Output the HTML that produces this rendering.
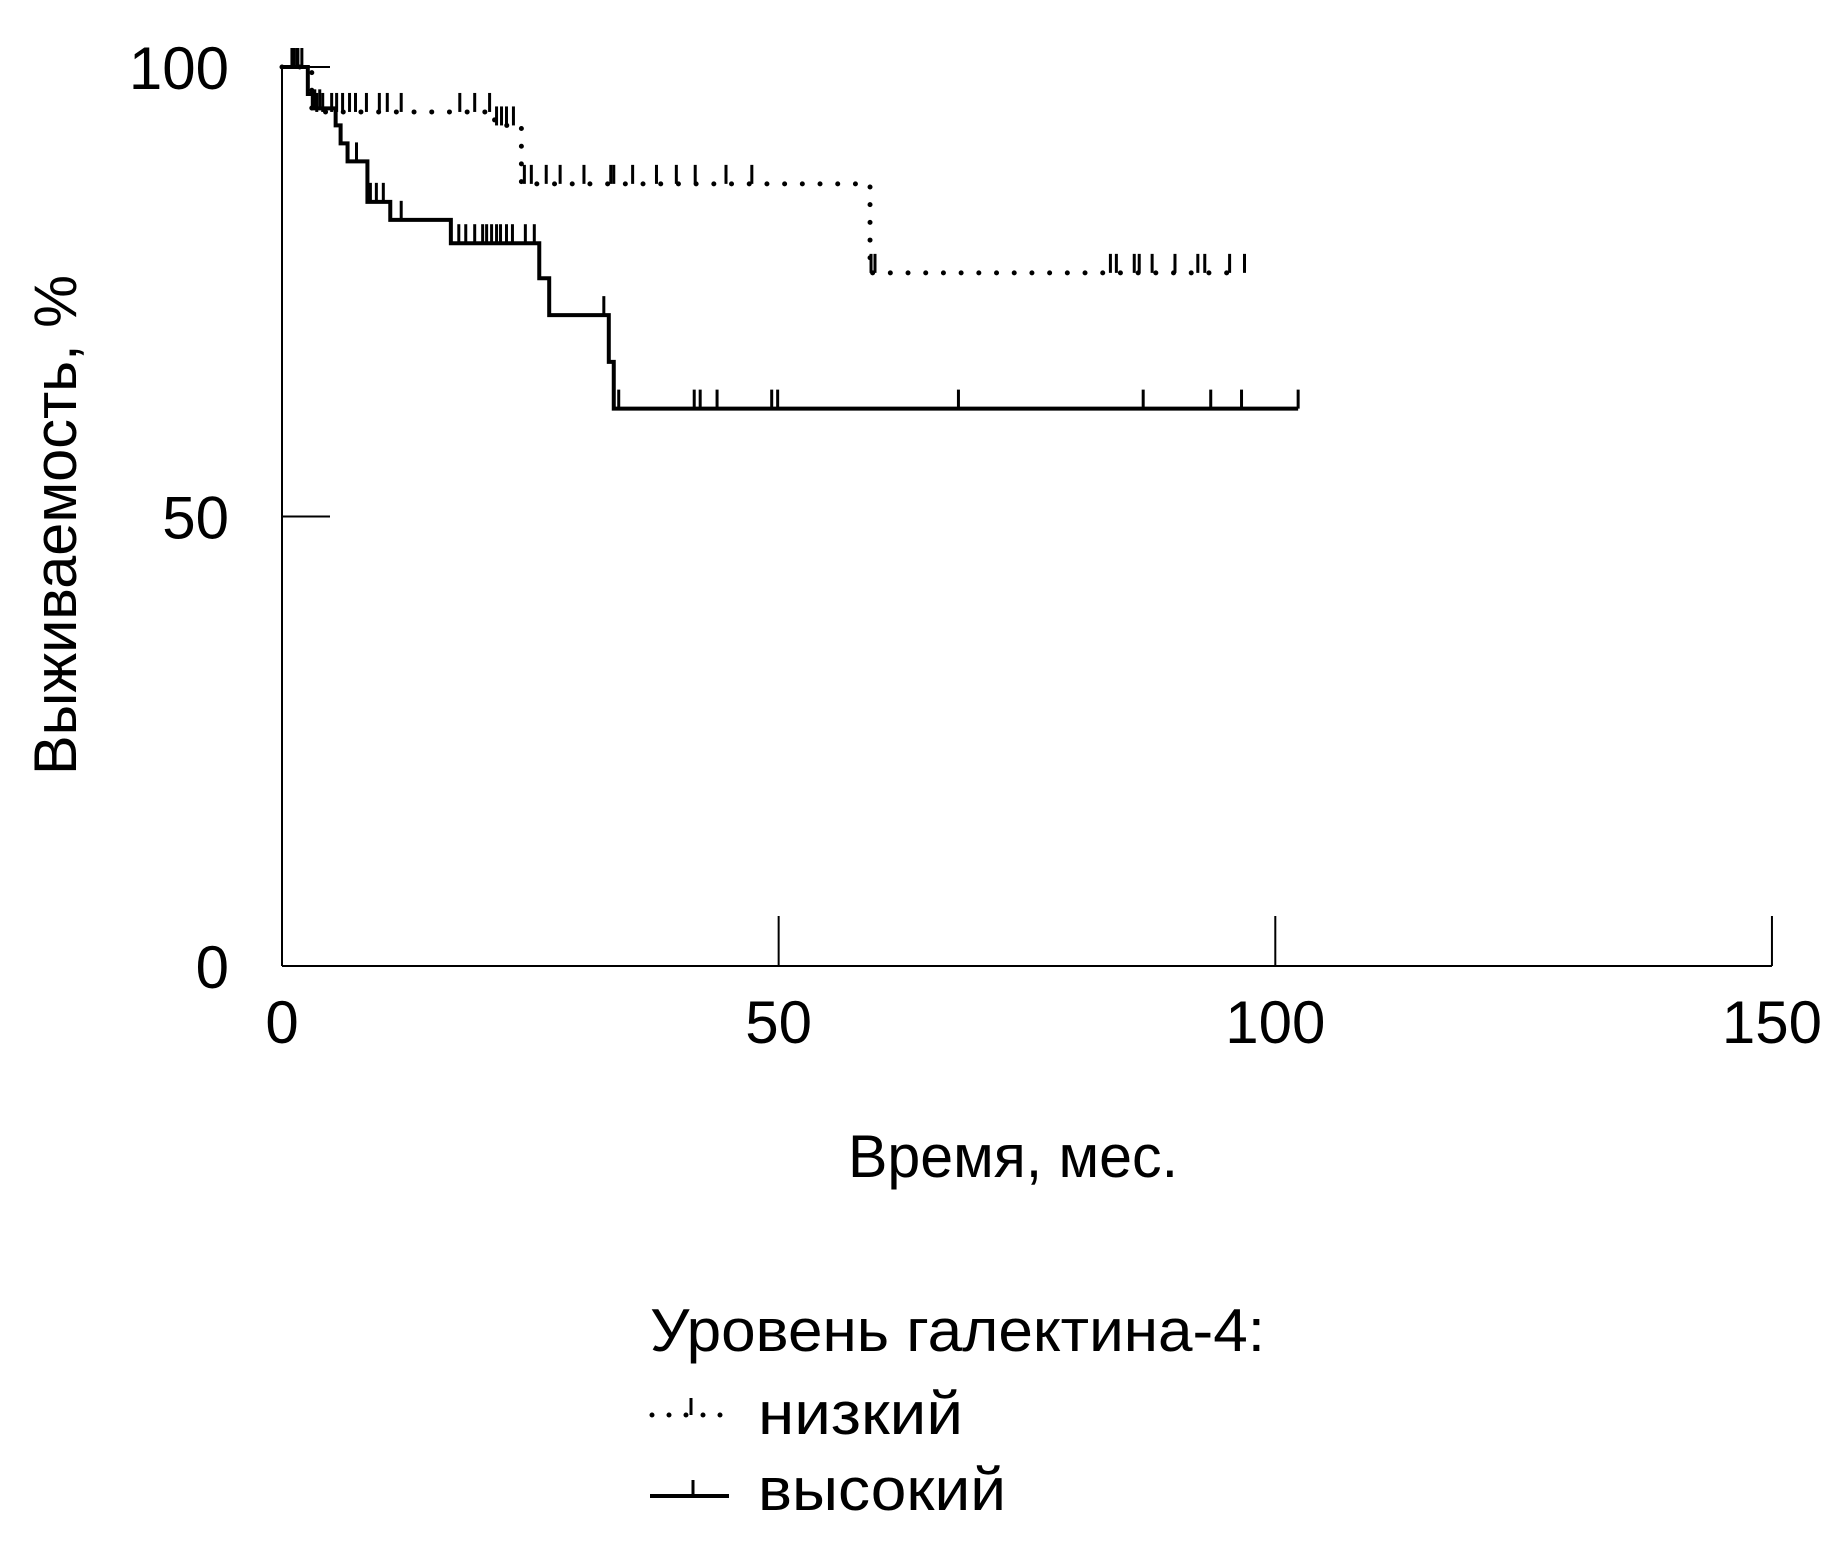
<!DOCTYPE html>
<html><head><meta charset="utf-8"><style>
html,body{margin:0;padding:0;background:#fff}
svg{display:block}
text{font-family:"Liberation Sans",sans-serif;fill:#000}
</style></head><body>
<svg id="chart" width="1843" height="1566" viewBox="0 0 1843 1566" xmlns="http://www.w3.org/2000/svg">
<g id="axes"></g>
<g id="series"></g>
<text transform="translate(76,525) rotate(-90)" text-anchor="middle" font-size="60" textLength="500" lengthAdjust="spacingAndGlyphs">Выживаемость, %</text>
<text x="1013" y="1177" text-anchor="middle" font-size="60" textLength="330" lengthAdjust="spacingAndGlyphs">Время, мес.</text>
<text x="650" y="1351" font-size="60" textLength="615" lengthAdjust="spacingAndGlyphs">Уровень галектина-4:</text>
<g>
<line x1="652" y1="1415" x2="729" y2="1415" stroke="#000" stroke-width="5" stroke-linecap="round" stroke-dasharray="0 17"/>
<line x1="691" y1="1415" x2="691" y2="1398" stroke="#000" stroke-width="3"/>
<text x="758" y="1434" font-size="60" textLength="205" lengthAdjust="spacingAndGlyphs">низкий</text>
</g>
<g>
<line x1="650" y1="1496" x2="729" y2="1496" stroke="#000" stroke-width="4"/>
<line x1="693" y1="1496" x2="693" y2="1480" stroke="#000" stroke-width="3"/>
<text x="758" y="1510" font-size="60" textLength="248" lengthAdjust="spacingAndGlyphs">высокий</text>
</g>
</svg>
<script>
// data
const xTicks = [0, 50, 100, 150];
const yTicks = [0, 50, 100];
const highTimes = [0, 2.6, 3.1, 5.4, 5.9, 6.6, 8.6, 10.9, 17.0, 25.9, 26.9, 32.9, 33.4, 102.3];
const highSurv  = [100, 97, 95.4, 93.5, 91.5, 89.5, 85, 83, 80.4, 76.5, 72.4, 67.2, 62, 62];
const highCensor = [1.2, 1.6, 2.0, 3.3, 3.8, 7.5, 8.9, 9.5, 10.2, 12.0, 17.8, 18.5, 19.4, 20.2, 20.6, 21.1, 21.6, 22.0, 22.6, 23.2, 24.5, 25.4, 32.4, 33.9, 41.5, 42.1, 43.8, 49.3, 49.9, 68.1, 86.7, 93.5, 96.6, 102.3];
const lowTimes = [0, 3.0, 21.4, 24.1, 59.2, 96.6];
const lowSurv  = [100, 95, 93.5, 87, 77.1, 77.1];
const lowCensor = [1.0, 1.5, 3.5, 4.1, 5.0, 5.5, 6.1, 6.8, 7.4, 8.5, 9.8, 10.6, 12.0, 17.9, 19.4, 20.9, 21.6, 22.1, 22.6, 23.3, 24.4, 25.1, 26.6, 28.0, 30.4, 33.1, 33.4, 35.3, 37.7, 39.7, 41.6, 44.7, 47.3, 59.3, 59.7, 83.4, 84.0, 85.8, 86.3, 87.6, 89.9, 92.2, 92.9, 95.4, 96.9];

const X0 = 282, XS = 9.933, Y0 = 966, YS = 8.99;
const xs = t => X0 + t * XS;
const ys = s => Y0 - s * YS;
const NS = 'http://www.w3.org/2000/svg';
const axes = document.getElementById('axes');
const series = document.getElementById('series');
function mk(tag, attrs, parent) {
  const el = document.createElementNS(NS, tag);
  for (const k in attrs) el.setAttribute(k, attrs[k]);
  parent.appendChild(el);
  return el;
}
let e;
e = mk('line', {x1: X0, y1: ys(100), x2: X0, y2: Y0, stroke: '#000', 'stroke-width': 2}, axes);


e = mk('line', {x1: X0, y1: Y0, x2: xs(150), y2: Y0, stroke: '#000', 'stroke-width': 2}, axes);


xTicks.forEach(v => {
  if (v > 0) {
    const tk = mk('line', {x1: xs(v), y1: Y0, x2: xs(v), y2: Y0 - 50, stroke: '#000', 'stroke-width': 2}, axes);
    
    
  }
  const tx = mk('text', {x: xs(v), y: 1043, 'text-anchor': 'middle', 'font-size': 60}, axes);
  tx.textContent = String(v);
  
  
});
yTicks.forEach(v => {
  if (v > 0) {
    const tk = mk('line', {x1: X0, y1: ys(v), x2: X0 + 48, y2: ys(v), stroke: '#000', 'stroke-width': 2}, axes);
    
    
  }
  const tx = mk('text', {x: 229, y: ys(v) + 22, 'text-anchor': 'end', 'font-size': 60}, axes);
  tx.textContent = String(v);
  
  
});
function stepPath(times, surv) {
  let d = 'M' + xs(times[0]) + ' ' + ys(surv[0]);
  for (let i = 1; i < times.length; i++) {
    d += ' L' + xs(times[i]) + ' ' + ys(surv[i - 1]) + ' L' + xs(times[i]) + ' ' + ys(surv[i]);
  }
  return d;
}
function survAt(times, surv, t) {
  let s = surv[0];
  for (let i = 0; i < times.length; i++) if (times[i] <= t) s = surv[i];
  return s;
}
e = mk('path', {d: stepPath(lowTimes, lowSurv), fill: 'none', stroke: '#000', 'stroke-width': 5, 'stroke-linecap': 'round', 'stroke-dasharray': '0 17.7'}, series);


e = mk('path', {d: stepPath(highTimes, highSurv), fill: 'none', stroke: '#000', 'stroke-width': 4}, series);


lowCensor.forEach(t => {
  const y = ys(survAt(lowTimes, lowSurv, t));
  const c = mk('line', {x1: xs(t), y1: y, x2: xs(t), y2: y - 19, stroke: '#000', 'stroke-width': 3}, series);
  
  
});
highCensor.forEach(t => {
  const y = ys(survAt(highTimes, highSurv, t));
  const c = mk('line', {x1: xs(t), y1: y, x2: xs(t), y2: y - 19, stroke: '#000', 'stroke-width': 3}, series);
  
  
});
</script>
</body></html>
